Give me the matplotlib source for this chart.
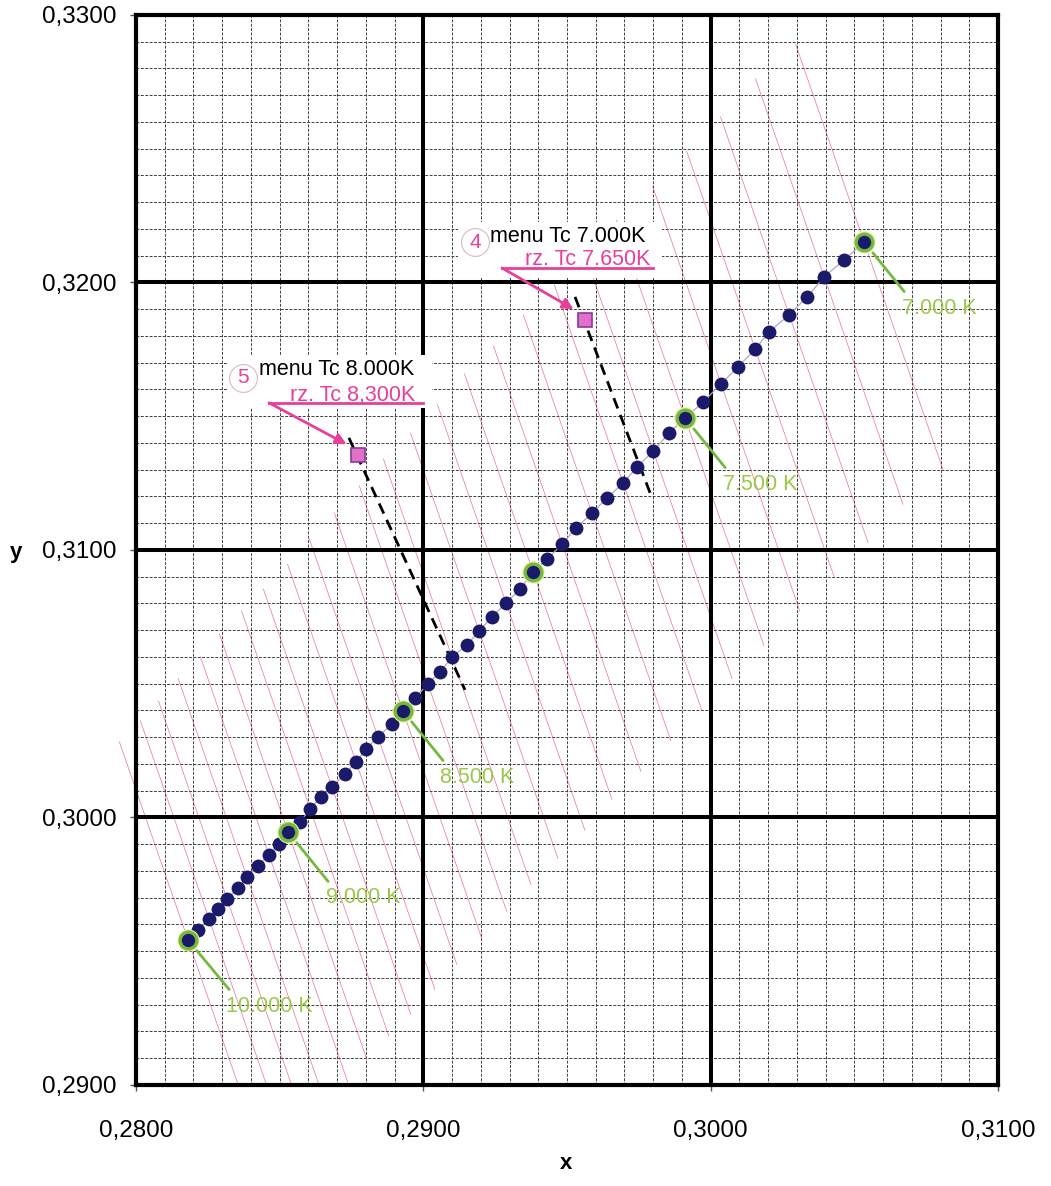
import numpy as np
import matplotlib
matplotlib.use("Agg")
import matplotlib.pyplot as plt
from matplotlib.patches import Rectangle
from matplotlib.ticker import MultipleLocator, FuncFormatter

plt.rcParams['font.family'] = ['Liberation Sans', 'DejaVu Sans']

# daylight locus points, 10000 K -> 7000 K
locus_x = [0.28181, 0.28216, 0.28254, 0.28285, 0.28317, 0.28355, 0.28386, 0.28425, 0.28463, 0.28498,
           0.28529, 0.28571, 0.28606, 0.28644, 0.28682, 0.28727, 0.28766, 0.28801, 0.28842, 0.28891,
           0.28929, 0.28971, 0.29016, 0.29058, 0.29100, 0.29152, 0.29194, 0.29239, 0.29288, 0.29337,
           0.29382, 0.29431, 0.29483, 0.29532, 0.29587, 0.29639, 0.29695, 0.29744, 0.29800, 0.29855,
           0.29911, 0.29974, 0.30036, 0.30095, 0.30155, 0.30203, 0.30273, 0.30336, 0.30395, 0.30464,
           0.30534]
locus_y = [0.29542, 0.29579, 0.29621, 0.29658, 0.29695, 0.29736, 0.29778, 0.29819, 0.29860, 0.29901,
           0.29946, 0.29983, 0.30032, 0.30077, 0.30114, 0.30163, 0.30207, 0.30256, 0.30301, 0.30350,
           0.30398, 0.30447, 0.30499, 0.30544, 0.30600, 0.30645, 0.30697, 0.30750, 0.30802, 0.30854,
           0.30918, 0.30966, 0.31022, 0.31082, 0.31138, 0.31194, 0.31250, 0.31310, 0.31370, 0.31437,
           0.31493, 0.31553, 0.31621, 0.31684, 0.31751, 0.31815, 0.31879, 0.31946, 0.32021, 0.32084,
           0.32151]

ring_idx = [0, 10, 20, 30, 40, 50]
label_idx = [0, 10, 20, 40, 50]
label_txt = ['10.000 K', '9.000 K', '8.500 K', '7.500 K', '7.000 K']

# measured samples
sample_x = [0.29563, 0.28773]
sample_y = [0.31860, 0.31355]
sample_no = ['4', '5']
menu_txt = ['menu Tc 7.000K', 'menu Tc 8.000K']
rz_txt = ['rz. Tc 7.650K', 'rz. Tc 8,300K']
iso_x = [[0.29528, 0.29796], [0.28741, 0.29145]]
iso_y = [[0.31946, 0.31194], [0.31419, 0.30477]]

x_ticks = [0.28, 0.29, 0.30, 0.31]
y_ticks = [0.29, 0.30, 0.31, 0.32, 0.33]

PINK = '#e8409a'
GREEN = '#74b83e'
GREEN_TXT = '#9cc84a'
NAVY = '#1b1a6a'

fig = plt.figure(figsize=(10.51, 11.86), dpi=100)
ax = fig.add_axes([0.1294, 0.0852, 0.8202, 0.9022])
ax.set_xlim(0.28, 0.31)
ax.set_ylim(0.29, 0.33)

# fine grid
ax.xaxis.set_minor_locator(MultipleLocator(0.001))
ax.yaxis.set_minor_locator(MultipleLocator(0.001))
ax.set_xticks(x_ticks)
ax.set_yticks(y_ticks)
ax.grid(which='minor', color='#404040', lw=0.7, ls=(0, (3, 1.5)), zorder=0.5)
ax.set_axisbelow(True)
for v in x_ticks[1:-1]:
    ax.axvline(v, color='black', lw=2.9, zorder=1.5)
for v in y_ticks[1:-1]:
    ax.axhline(v, color='black', lw=2.9, zorder=1.5)
for s in ax.spines.values():
    s.set_linewidth(3.0)
    s.set_zorder(5)

fmt = FuncFormatter(lambda v, p: f"{v:.4f}".replace('.', ','))
ax.xaxis.set_major_formatter(fmt)
ax.yaxis.set_major_formatter(fmt)
ax.tick_params(which='major', length=4, width=1, labelsize=17.5, color='#555555')
ax.tick_params(axis='x', which='major', pad=21)
ax.tick_params(axis='y', which='major', pad=10)
ax.tick_params(which='minor', length=0)
fig.text(0.539, 0.010, 'x', fontsize=16, fontweight='bold', ha='center', va='bottom')
fig.text(0.009, 0.534, 'y', fontsize=16, fontweight='bold', ha='left', va='center')

# isotemperature hatch lines through every other locus point
clip = Rectangle((-0.06, 0), 1.06, 1, transform=ax.transAxes)
for px, py in zip(locus_x[::2], locus_y[::2]):
    up, dn = 0.0074, 0.0085
    ln, = ax.plot([px - up / 3.1, px + dn / 3.1], [py + up, py - dn],
                  color='#d83c6a', lw=0.55, alpha=0.65, zorder=1)
    ln.set_clip_path(clip)

# white label boxes
boxes = [(0.29121, 0.32017, 0.00710, 0.00209), (0.28320, 0.31531, 0.00710, 0.00198)]
for bx, by, bw, bh in boxes:
    ax.add_patch(Rectangle((bx, by), bw, bh, facecolor='white', edgecolor='none', zorder=2))

# locus
ax.plot(locus_x, locus_y, color='#b4a4cc', lw=0.9, zorder=3)
ax.plot(locus_x, locus_y, 'o', color=NAVY, ms=10, mec='none', zorder=4)
rx = [locus_x[i] for i in ring_idx]
ry = [locus_y[i] for i in ring_idx]
ax.plot(rx, ry, 'o', ms=14.5, mfc='none', mec='#e4f0a0', mew=1.5, zorder=4.5)
ax.plot(rx, ry, 'o', ms=12, mfc=NAVY, mec=GREEN, mew=2.4, zorder=5)

for i, t in zip(label_idx, label_txt):
    ax.annotate(t, xy=(locus_x[i], locus_y[i]), xytext=(27, -40), textcoords='offset points',
                ha='left', va='top', fontsize=15.5, color=GREEN_TXT, zorder=6,
                arrowprops=dict(arrowstyle='-', color=GREEN, lw=2.0, relpos=(0.1, 1.0),
                                shrinkA=3, shrinkB=10))

# samples with their isotherms
for k in range(2):
    ax.plot(iso_x[k], iso_y[k], color='black', lw=2.0, ls=(0, (4, 2.5)), zorder=3)
ax.plot(sample_x, sample_y, 's', ms=10.5, mfc='#e070c8', mec='#8a3a9a', mew=1.2, zorder=6)

num_pos = [(0.29180, 0.32151), (0.28372, 0.31643)]
menu_pos = [(0.29232, 0.32170), (0.28428, 0.31673)]
rz_pos = [(0.29789, 0.32084), (0.28971, 0.31579)]
line_pos = [(0.29274, 0.29800, 0.32054), (0.28463, 0.28999, 0.31550)]
for k in range(2):
    ax.plot(*num_pos[k], 'o', ms=20, mfc='white', mec='#dcb8c8', mew=0.8, zorder=6)
    ax.text(*num_pos[k], sample_no[k], color=PINK, fontsize=15, ha='center', va='center', zorder=7)
    ax.text(*menu_pos[k], menu_txt[k], color='black', fontsize=15.5, ha='left', va='center', zorder=7)
    ax.text(*rz_pos[k], rz_txt[k], color=PINK, fontsize=15.5, ha='right', va='center', zorder=7)
    x0, x1, yl = line_pos[k]
    ax.plot([x0, x1], [yl, yl], color=PINK, lw=2.0, zorder=7)
    ax.annotate('', xy=(sample_x[k] - 0.00040, sample_y[k] + 0.00040), xytext=(x0, yl),
                arrowprops=dict(arrowstyle='-|>', color=PINK, lw=2.0, mutation_scale=16,
                                shrinkA=0, shrinkB=0), zorder=7)

fig.savefig('out.png', dpi=100, facecolor='white')
